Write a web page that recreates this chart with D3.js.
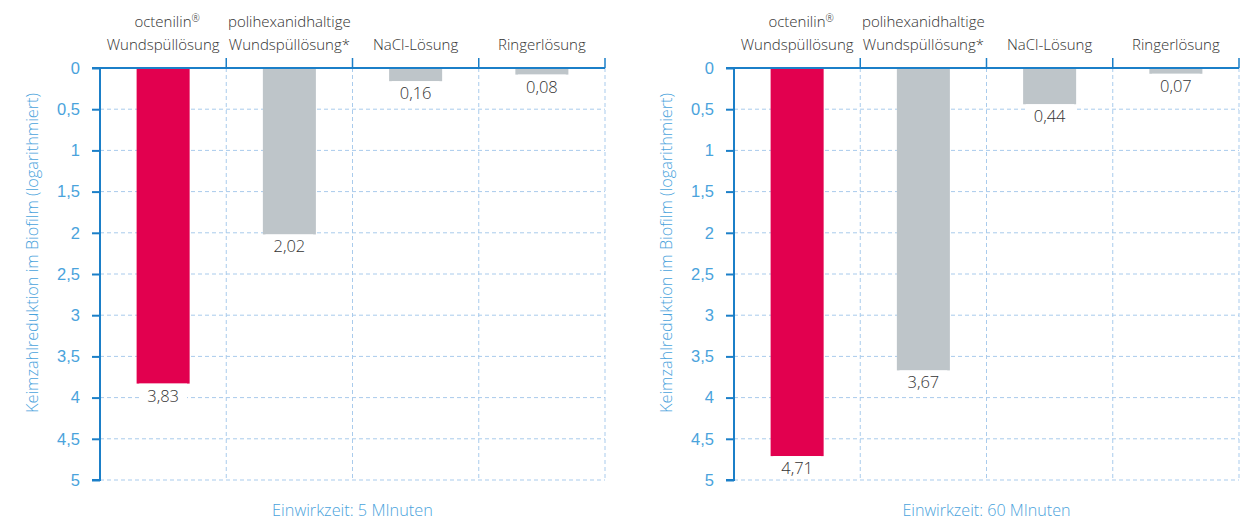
<!DOCTYPE html>
<html>
<head>
<meta charset="utf-8">
<script src="https://cdn.jsdelivr.net/npm/d3@7/dist/d3.min.js"></script>
<style>
  body { margin: 0; background: #fff; }
  svg { font-family: "Open Sans", "Noto Sans", sans-serif; font-weight: 300; }
</style>
</head>
<body>
<svg id="chart" width="1245" height="520"></svg>
<script>
var categories = [["octenilin®", "Wundspüllösung"], ["polihexanidhaltige", "Wundspüllösung*"], ["NaCl-Lösung"], ["Ringerlösung"]];
var values5 = [3.83, 2.02, 0.16, 0.08];
var values60 = [4.71, 3.67, 0.44, 0.07];
var yTicks = [0, 0.5, 1, 1.5, 2, 2.5, 3, 3.5, 4, 4.5, 5];
var titles = ["Einwirkzeit: 5 MInuten", "Einwirkzeit: 60 MInuten"];
var yTitle = "Keimzahlreduktion im Biofilm (logarithmiert)";

var axisBlue = "#1b7fc8";
var gridBlue = "#a9cbec";
var textBlue = "#4aa3dc";
var fmt = d => String(d).replace(".", ",");

var svg = d3.select("#chart");

// scale a text's font so it gets roughly the wanted width
function fitWidth(sel, w){
  var fs = +sel.attr("font-size");
  var len = sel.node().getComputedTextLength();
  sel.attr("font-size", fs * w / len);
}

function drawPanel(left, values, title){
  var right = left + 505, top = 68, bottom = 480;
  var x = d3.scaleBand().domain(d3.range(categories.length)).range([left, right]);
  var y = d3.scaleLinear().domain([0, 5]).range([top, bottom]);
  var g = svg.append("g");

  // horizontal grid
  g.selectAll(".hg").data(yTicks.slice(1)).join("line")
    .attr("x1", left).attr("x2", right)
    .attr("y1", d => y(d)).attr("y2", d => y(d))
    .attr("stroke", gridBlue).attr("stroke-dasharray", "4,3");
  // vertical grid at band boundaries
  g.selectAll(".vg").data(d3.range(1, categories.length + 1)).join("line")
    .attr("x1", d => left + d * x.bandwidth()).attr("x2", d => left + d * x.bandwidth())
    .attr("y1", top).attr("y2", bottom)
    .attr("stroke", gridBlue).attr("stroke-dasharray", "4,3");

  // bars
  g.selectAll(".bar").data(values).join("rect")
    .attr("x", (d, i) => x(i) + x.bandwidth() * 0.29)
    .attr("width", x.bandwidth() * 0.42)
    .attr("y", y(0))
    .attr("height", d => y(d) - y(0))
    .attr("fill", (d, i) => i == 0 ? "#e2004f" : "#bec5c9");

  // value labels with white background
  var lab = g.selectAll(".val").data(values).join("g")
    .attr("transform", (d, i) => `translate(${x(i) + x.bandwidth() / 2},${y(d) + 18})`);
  lab.append("text")
    .attr("text-anchor", "middle")
    .attr("font-size", 16.5)
    .attr("fill", "#333")
    .text(d => fmt(d))
    .each(function(){
      var b = this.getBBox();
      d3.select(this.parentNode).insert("rect", "text")
        .attr("x", b.x - 8).attr("y", b.y).attr("width", b.width + 16).attr("height", b.height)
        .attr("fill", "#fff");
    });

  // y axis
  var ya = g.append("g").attr("transform", `translate(${left},0)`)
    .call(d3.axisLeft(y).tickValues(yTicks).tickFormat(fmt).tickSize(8).tickPadding(12));
  ya.select(".domain").attr("stroke", axisBlue).attr("stroke-width", 2).attr("d", `M-8,${top}H0V${bottom}H-8`);
  ya.selectAll(".tick line").attr("stroke", axisBlue).attr("stroke-width", 2);
  ya.selectAll(".tick text").attr("fill", textBlue).attr("font-size", 16.5).attr("font-family", null);

  // top axis with ticks at band boundaries
  g.append("line").attr("x1", left).attr("x2", right).attr("y1", top).attr("y2", top)
    .attr("stroke", axisBlue).attr("stroke-width", 2);
  g.selectAll(".tt").data(d3.range(1, categories.length + 1)).join("line")
    .attr("x1", d => left + d * x.bandwidth()).attr("x2", d => left + d * x.bandwidth())
    .attr("y1", top - 10).attr("y2", top)
    .attr("stroke", axisBlue).attr("stroke-width", 1.5);

  // category labels (® as superscript)
  g.selectAll(".cat").data(categories).join("text")
    .attr("text-anchor", "middle")
    .attr("x", (d, i) => x(i) + x.bandwidth() / 2)
    .attr("font-size", 15)
    .attr("fill", "#333")
    .each(function(d){
      var t = d3.select(this);
      var y0 = d.length == 2 ? 27 : 50;
      var cx = t.attr("x");
      d.forEach((s, k) => {
        if (s.endsWith("®")) {
          t.append("tspan").attr("x", cx).attr("y", y0 + k * 23).attr("dx", 4).text(s.slice(0, -1));
          t.append("tspan").attr("font-size", 10).attr("dy", -5).text("®");
        } else {
          t.append("tspan").attr("x", cx).attr("y", y0 + k * 23).text(s);
        }
      });
    });

  // titles
  var yt = g.append("text").attr("transform", `translate(${left - 62},253) rotate(-90)`)
    .attr("text-anchor", "middle").attr("font-size", 15).attr("fill", textBlue).text(yTitle);
  fitWidth(yt, 320);
  var bt = g.append("text").attr("x", (left + right) / 2).attr("y", 516)
    .attr("text-anchor", "middle").attr("font-size", 16).attr("fill", textBlue).text(title);
  fitWidth(bt, title.length * 161 / 22);
}

drawPanel(100, values5, titles[0]);
drawPanel(734, values60, titles[1]);
</script>
</body>
</html>
